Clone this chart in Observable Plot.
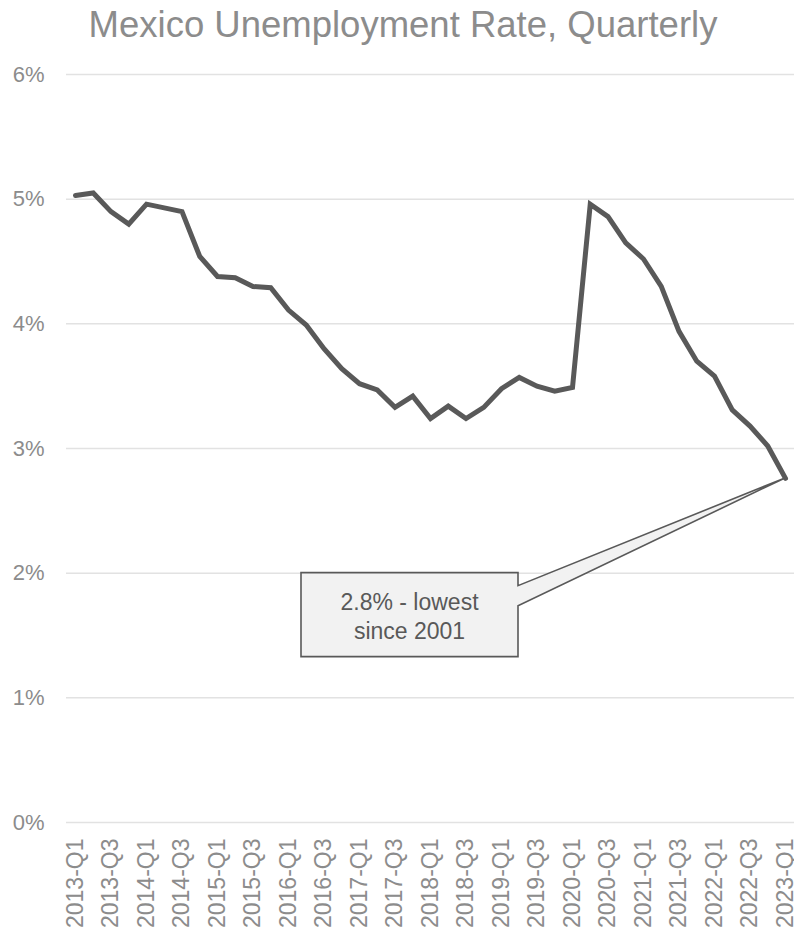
<!DOCTYPE html>
<html>
<head>
<meta charset="utf-8">
<script src="https://cdn.jsdelivr.net/npm/d3@7"></script>
<script src="https://cdn.jsdelivr.net/npm/@observablehq/plot@0.6"></script>
<style>
  html, body { margin: 0; padding: 0; background: #ffffff; }
  #title {
    width: 782px; height: 50px; line-height: 50px; padding-left: 12px;
    text-align: center; font-family: Arial, "Liberation Sans", sans-serif;
    font-size: 36.5px; color: #8c8c8c; white-space: nowrap;
  }
</style>
</head>
<body>
<div id="title">Mexico Unemployment Rate, Quarterly</div>
<div id="chart"></div>
<script>
// Quarterly unemployment rate, percent
const quarters = [
  "2013-Q1","2013-Q2","2013-Q3","2013-Q4",
  "2014-Q1","2014-Q2","2014-Q3","2014-Q4",
  "2015-Q1","2015-Q2","2015-Q3","2015-Q4",
  "2016-Q1","2016-Q2","2016-Q3","2016-Q4",
  "2017-Q1","2017-Q2","2017-Q3","2017-Q4",
  "2018-Q1","2018-Q2","2018-Q3","2018-Q4",
  "2019-Q1","2019-Q2","2019-Q3","2019-Q4",
  "2020-Q1","2020-Q2","2020-Q3","2020-Q4",
  "2021-Q1","2021-Q2","2021-Q3","2021-Q4",
  "2022-Q1","2022-Q2","2022-Q3","2022-Q4",
  "2023-Q1"
];
const rates = [
  5.03, 5.05, 4.90, 4.80,
  4.96, 4.93, 4.90, 4.54,
  4.38, 4.37, 4.30, 4.29,
  4.11, 3.99, 3.80, 3.64,
  3.52, 3.47, 3.33, 3.42,
  3.24, 3.34, 3.24, 3.33,
  3.48, 3.57, 3.50, 3.46,
  3.49, 4.96, 4.86, 4.65,
  4.52, 4.30, 3.94, 3.70,
  3.58, 3.31, 3.18, 3.02,
  2.76
];
const xTickLabels = [
  "2013-Q1","2013-Q3","2014-Q1","2014-Q3","2015-Q1","2015-Q3","2016-Q1",
  "2016-Q3","2017-Q1","2017-Q3","2018-Q1","2018-Q3","2019-Q1","2019-Q3",
  "2020-Q1","2020-Q3","2021-Q1","2021-Q3","2022-Q1","2022-Q3","2023-Q1"
];
const yTicks = [0, 1, 2, 3, 4, 5, 6];
const calloutSuffix = " - lowest";
const calloutLine2 = "since 2001";

const data = quarters.map((q, i) => ({quarter: q, rate: rates[i]}));
const last = data[data.length - 1];

const font = 'Arial, "Liberation Sans", sans-serif';
const dark = "#595959";

// Callout box with a wedge pointing at the latest reading
function callout(index, scales) {
  const tx = scales.x(last.quarter);
  const ty = scales.y(last.rate);
  const left = 301, width = 217, height = 84;
  const top = scales.y(2);
  const right = left + width, bottom = top + height;
  const g = d3.create("svg:g");
  g.append("path")
    .attr("d", `M${left},${top}H${right}V${top + 13}L${tx},${ty}L${right},${top + 33}V${bottom}H${left}Z`)
    .attr("fill", "#f2f2f2")
    .attr("stroke", dark)
    .attr("stroke-width", 1.6)
    .attr("stroke-linejoin", "miter");
  const cx = (left + right) / 2;
  const lines = [d3.format(".1f")(last.rate) + "%" + calloutSuffix, calloutLine2];
  lines.forEach((t, i) => {
    g.append("text")
      .attr("x", cx)
      .attr("y", top + 37 + i * 29)
      .attr("text-anchor", "middle")
      .attr("font-family", font)
      .attr("font-size", 23)
      .attr("fill", dark)
      .text(t);
  });
  return g.node();
}

const chart = Plot.plot({
  width: 794,
  height: 881,
  marginTop: 24,
  marginBottom: 109,
  marginLeft: 66,
  marginRight: 0,
  style: {fontFamily: font, fontSize: "22px", color: "#8c8c8c", background: "#ffffff"},
  x: {type: "point", domain: quarters, padding: 0, round: false, insetLeft: 9, insetRight: 9, label: null},
  y: {domain: [0, 6], label: null},
  marks: [
    Plot.gridY(yTicks, {stroke: "#e2e2e2", strokeOpacity: 1, strokeWidth: 1.5}),
    Plot.axisY(yTicks, {tickSize: 0, tickPadding: 22, fontSize: 22, tickFormat: d => d + "%", label: null}),
    Plot.axisX(xTickLabels, {tickSize: 0, tickPadding: 16, tickRotate: -90, fontSize: 23, label: null}),
    callout,
    Plot.line(data, {x: "quarter", y: "rate", stroke: dark, strokeWidth: 5, strokeLinejoin: "miter", strokeMiterlimit: 3})
  ]
});
document.getElementById("chart").appendChild(chart);
</script>
</body>
</html>
